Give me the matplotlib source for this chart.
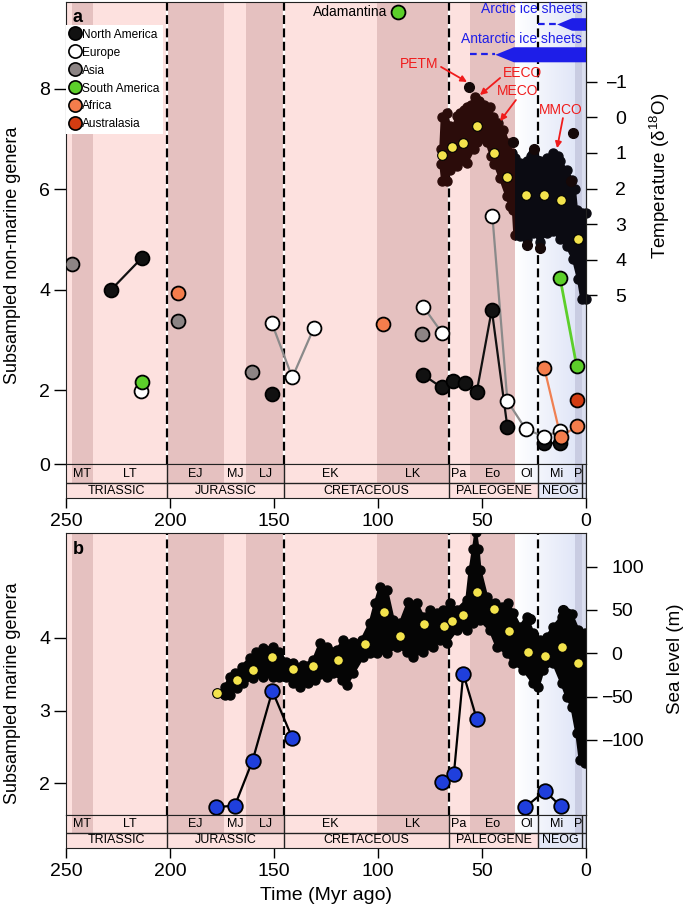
import numpy as np
import matplotlib
matplotlib.use('Agg')
import matplotlib.pyplot as plt
from matplotlib.lines import Line2D
from matplotlib.patches import Rectangle
from matplotlib.transforms import blended_transform_factory

plt.rcParams['font.family'] = ['Liberation Sans', 'DejaVu Sans']
plt.rcParams['mathtext.fontset'] = 'custom'
plt.rcParams['mathtext.rm'] = 'Liberation Sans'
plt.rcParams['mathtext.it'] = 'Liberation Sans:italic'

nan = np.nan

# ---- geological time scale (Myr ago)
epoch_names = ['', 'MT', 'LT', 'EJ', 'MJ', 'LJ', 'EK', 'LK', 'Pa', 'Eo', 'Ol', 'Mi', 'P', '']
epoch_start = [252, 247.2, 237, 201.3, 174.1, 163.5, 145, 100.5, 66, 56, 33.9, 23, 5.33, 1.81]
epoch_end = [247.2, 237, 201.3, 174.1, 163.5, 145, 100.5, 66, 56, 33.9, 23, 5.33, 1.81, 0]
period_names = ['TRIASSIC', 'JURASSIC', 'CRETACEOUS', 'PALEOGENE', 'NEOG', '']
period_start = [252, 201.3, 145, 66, 23, 1.81]
period_end = [201.3, 145, 66, 23, 1.81, 0]
boundaries = [201.3, 145, 66, 23]

# ---- panel a: regional non-marine genera (nan = gap in line)
na_age = [228.5, 213.6, nan, 151.0, nan, 78.2, 69.4, 63.8, 58.2, 52.5, 45.3, 37.8, nan, 20.2, 12.5]
na_gen = [3.99, 4.63, nan, 1.93, nan, 2.30, 2.05, 2.17, 2.13, 1.97, 3.60, 1.26, nan, 0.94, 0.94]
eu_age = [214.1, nan, 151.1, 141.2, 130.8, nan, 78.2, 69.1, nan, 45.0, 37.8, 29.0, 20.0, 12.5]
eu_gen = [1.99, nan, 3.34, 2.25, 3.24, nan, 3.66, 3.13, nan, 5.47, 1.78, 1.22, 1.07, 1.19]
as_age = [247.0, 196.0, 160.4, 78.7]
as_gen = [4.51, 3.38, 2.35, 3.11]
sa_age = [213.6, nan, 90.2, nan, 12.5, 4.5]
sa_gen = [2.15, nan, 9.54, nan, 4.24, 2.48]
af_age = [196.0, nan, 97.4, nan, 20.0, 12.2, 4.2]
af_gen = [3.94, nan, 3.32, nan, 2.43, 1.07, 1.28]
au_age = [4.5]
au_gen = [1.81]

# ---- panel a: benthic d18O cloud (upper and lower edge) and bin means
d18o_top_age = [69.9, 69.2, 67.0, 65.5, 64.0, 62.0, 60.6, 58.5, 57.4, 55.5, 53.4, 51.5, 49.0,
                46.2, 44.6, 42.1, 39.7, 37.3, 35.5, 34.3, 33.5, 31.7, 28.5, 26.5, 25.3, 23.5,
                22.1, 18.9, 15.7, 13.5, 12.5, 9.3, 6.9, 5.5, 4.5, 2.1, 0.2]
d18o_top = [0.9, 0.0, -0.12, 0.25, 0.3, -0.05, -0.12, -0.2, -0.3, -0.35, -0.58, -0.45, -0.35,
            -0.3, 0.0, 0.16, 0.35, 0.72, 1.0, 1.14, 1.3, 1.28, 1.24, 1.1, 1.0, 1.2,
            1.24, 1.14, 1.0, 1.1, 1.24, 1.47, 1.75, 2.0, 2.6, 2.68, 2.68]
d18o_bot_age = [69.9, 69.0, 67.0, 65.4, 62.2, 57.4, 54.0, 52.6, 47.8, 45.5, 44.0, 41.3, 38.1,
                36.5, 35.0, 34.3, 31.7, 28.5, 25.3, 22.1, 18.9, 15.7, 12.5, 9.3, 6.1, 3.7, 2.1, 0.2]
d18o_bot = [1.3, 1.8, 1.8, 1.47, 1.38, 1.28, 0.9, 0.7, 0.7, 1.1, 1.3, 1.7, 2.22,
            2.5, 2.6, 3.3, 3.34, 3.43, 3.24, 3.5, 3.24, 3.2, 3.43, 3.62, 3.99, 4.55, 5.11, 5.11]
d18o_out_age = [56.1, 34.9, 25.1, 6.1, 7.1, 28.5, 22.1]
d18o_out = [-0.86, 0.68, 0.9, 0.45, 1.8, 3.6, 3.67]
d18o_mean_age = [69.1, 64.3, 59.0, 52.2, 44.2, 37.8, 29.0, 20.2, 12.2, 3.7]
d18o_mean = [1.05, 0.82, 0.72, 0.24, 1.0, 1.69, 2.17, 2.17, 2.31, 3.43]

# ice sheets: (dashed start, wedge start, full from)
arctic_ice = [22.9, 14.1, 6.9]
antarctic_ice = [55.8, 43.8, 34.9]

# ---- panel b: marine genera and sea level
mar_age = [178.0, 168.8, 160.3, 150.8, 141.2, nan, 69.4, 63.5, 59.0, 52.5, nan, 29.3, 19.7, 12.2]
mar_gen = [1.665, 1.69, 2.31, 3.27, 2.62, nan, 2.02, 2.13, 3.51, 2.88, nan, 1.665, 1.89, 1.68]

sl_top_age = [174.0, 173.6, 171.2, 168.8, 165.6, 161.7, 158.5, 155.3, 150.6, 147.4, 144.2, 140.7,
              135.9, 131.1, 127.9, 124.7, 119.9, 116.6, 111.9, 107.9, 103.9, 101.4, 99.0, 95.8,
              92.6, 89.4, 85.4, 81.4, 78.2, 75.0, 71.8, 68.6, 65.4, 62.2, 57.4, 55.8, 54.2, 53.0,
              51.8, 50.9, 47.7, 43.7, 40.5, 37.3, 34.9, 31.7, 28.5, 25.3, 22.1, 18.9, 15.7, 11.7,
              9.3, 6.9, 3.7, 0.3]
sl_top = [-45, -38.5, -27, -23, -15.4, -5.8, 1.9, 5.8, 7.7, 1.9, -9.6, -11.5,
          -13.5, -7.7, 11.5, 7.7, 3.8, 15.4, 13.5, 15.4, 34.6, 57.7, 76.9, 73.0,
          38.5, 34.6, 59.6, 57.7, 42.3, 50, 46.2, 50, 57.7, 50, 61.5, 96.2, 120, 140,
          120, 96.2, 65.4, 57.7, 53.8, 57.7, 46.2, 30.8, 42.3, 23.1, 15.4, 19.2, 30.8, 42.3,
          46.2, 45, 26.9, 23.1]
sl_bot_age = [174.0, 173.6, 171.2, 168.0, 164.8, 160.1, 155.3, 150.6, 147.4, 144.2, 140.7, 137.5,
              133.5, 130.3, 124.7, 121.5, 117.4, 115.0, 111.9, 107.1, 103.9, 100.6, 97.4, 95.8,
              91.0, 86.2, 83.0, 78.2, 73.4, 70.2, 67.0, 62.2, 57.4, 54.2, 50.9, 46.2, 42.9, 38.1,
              34.9, 30.1, 25.3, 22.9, 20.5, 15.7, 11.7, 9.3, 6.9, 4.5, 2.9, 0.3]
sl_bot = [-47, -48.1, -48, -40.4, -34.6, -28.8, -27, -27, -27, -27, -34.6, -38.5,
          -34.6, -30.8, -27, -23, -30.8, -36.5, -23, -3.8, 0, 0, 5, 0,
          7.7, 1.9, -3.8, 1.9, 7.7, 15.4, 11.5, 26.9, 26.9, 34.6, 38.5, 26.9, 7.7, 0,
          -11.5, -19.2, -34.6, -38.5, -19.2, -11.5, -34.6, -50, -61.5, -92.3, -123, -127]
sl_out_age = [26.9, 10.9]
sl_out = [39.6, 50]
sl_mean_age = [177.6, 167.9, 160.2, 150.8, 141.0, 131.4, 119.4, 106.3, 97.1, 89.4, 77.7, 68.1,
               64.3, 59.0, 52.5, 44.1, 36.9, 28.0, 19.9, 11.5, 3.8]
sl_mean = [-46.2, -30.8, -19.3, -3.9, -18.1, -14.7, -7.7, 10.4, 48.0, 20.0, 33.4, 31.5,
           37.3, 44.2, 71.1, 50.8, 26.1, 1.5, -3.1, 7.3, -10.8]

# ---- colours
LIGHT = '#fde1df'
DARK = '#e5c1c0'
epoch_colors = [LIGHT, DARK, LIGHT, DARK, LIGHT, DARK, LIGHT, DARK, LIGHT, DARK, None, None, '#c9cce2', '#dadeef']
RED = '#f01c1c'
BLUE = '#1e1ee8'
YELLOW = '#f3e34c'

W, H = 685, 913
fig = plt.figure(figsize=(W / 100, H / 100), dpi=100)


def box(x0, y0, x1, y1):
    return [x0 / W, 1 - y1 / H, (x1 - x0) / W, (y1 - y0) / H]


def draw_bands(ax, y0, y1):
    for s, e, c in zip(epoch_start, epoch_end, epoch_colors):
        if c is not None:
            ax.axvspan(s, e, ymin=y0, ymax=y1, color=c, lw=0, zorder=0.2)
    g = np.linspace(0, 1, 256)[:, None]
    cols = (1 - g) * np.array([1.0, 1.0, 1.0]) + g * np.array([0.86, 0.885, 0.965])
    ax.imshow(cols[None, :, :], extent=(33.9, 0, y0, y1), transform=ax.get_xaxis_transform(),
              aspect='auto', zorder=0.1, interpolation='bilinear')


def timescale(ts, split):
    draw_bands(ts, split, 1)
    for s, e, n in zip(period_start, period_end, period_names):
        ts.axvspan(s, e, ymin=0, ymax=split, color=LIGHT if s > 23 else '#e3e7f6', lw=0, zorder=0.2)
        ts.axvline(e, color='#222222', lw=1)
        if n:
            ts.text((min(s, 250) + e) / 2, split / 2, n, ha='center', va='center', fontsize=9)
    for s, e, n in zip(epoch_start, epoch_end, epoch_names):
        if n:
            ts.text((min(s, 250) + e) / 2, (1 + split) / 2, n, ha='center', va='center', fontsize=9)
    ts.axhline(split, color='#222222', lw=1)
    ts.set_xlim(250, 0)
    ts.set_ylim(0, 1)
    ts.set_yticks([])
    ts.set_xticks([250, 200, 150, 100, 50, 0])
    ts.tick_params(axis='x', length=7.5, width=1, labelsize=14, pad=3)
    for sp in ts.spines.values():
        sp.set_color('#222222')


def panel_base(ax, label):
    draw_bands(ax, 0, 1)
    for b in boundaries:
        ax.axvline(b, color='white', lw=1.6, zorder=1)
        ax.axvline(b, color='black', lw=1.6, ls=(0, (4, 2)), zorder=1.1)
    ax.set_xlim(250, 0)
    ax.tick_params(axis='x', bottom=False, labelbottom=False)
    ax.tick_params(axis='y', length=8.5, width=1, labelsize=14, pad=3)
    ax.text(0.013, 0.985 if label == 'a' else 0.97, label, transform=ax.transAxes, fontsize=13,
            fontweight='bold', ha='left', va='top')
    for sp in ax.spines.values():
        sp.set_color('#222222')


def right_ticks(ax2, ticks, xlab):
    ax2.set_yticks(ticks, [f'{abs(t):g}' for t in ticks])
    tr = blended_transform_factory(ax2.transAxes, ax2.transData)
    for t in ticks:
        if t < 0:
            ax2.text(xlab, t, '\u2212', transform=tr, ha='right', va='center_baseline', fontsize=14)
    for sp in ['left', 'top', 'bottom']:
        ax2.spines[sp].set_visible(False)
    ax2.spines['right'].set_color('#222222')


def cloud(ax2, top_age, top, bot_age, bot, color, clip=None):
    px = np.r_[top_age, bot_age[::-1]]
    py = np.r_[top, bot[::-1]]
    p = ax2.fill(px, py, facecolor=color, edgecolor=color, lw=2.0, joinstyle='round', zorder=2)[0]
    # the record is a dense cloud of dots: dots along the edges give its bumpy outline
    dots = ax2.plot(px, py, 'o', ls='none', ms=6.5, color=color, zorder=2)[0]
    if clip is not None:
        r = Rectangle((clip[0], -500), clip[1] - clip[0], 1000, transform=ax2.transData)
        p.set_clip_path(r)
        dots.set_clip_path(r)


# ================= panel a
axA = fig.add_axes(box(66, 2, 586, 464))
tsA = fig.add_axes(box(66, 464, 586, 498))
panel_base(axA, 'a')
timescale(tsA, 0.44)
axA.set_ylim(0.525, 9.734)
axA.set_yticks([0.525, 2, 4, 6, 8], ['0', '2', '4', '6', '8'])
axA.set_ylabel('Subsampled non-marine genera', fontsize=13)
axA.yaxis.set_label_coords(-0.087, 0.452)

regions = [
    ('North America', na_age, na_gen, '#111111', '#111111'),
    ('Europe', eu_age, eu_gen, 'white', '#8a8a8a'),
    ('Asia', as_age, as_gen, '#8c8484', None),
    ('South America', sa_age, sa_gen, '#5ccf2a', '#5ccf2a'),
    ('Africa', af_age, af_gen, '#f47d4c', '#f08052'),
    ('Australasia', au_age, au_gen, '#d33c12', None),
]
for name, x, y, fc, lc in regions:
    if lc is not None:
        axA.plot(x, y, '-', color=lc, lw=1.6 if name != 'South America' else 2.0, zorder=3)
    axA.plot(x, y, 'o', ls='none', ms=10, mfc=fc, mec='black', mew=1.3, zorder=4)

handles = [Line2D([], [], ls='none', marker='o', ms=9.5, mfc=fc, mec='black', mew=1.2, label=n)
           for n, x, y, fc, lc in regions]
axA.legend(handles=handles, loc='upper left', bbox_to_anchor=(0.0, (464 - 25) / 462), fontsize=8.6,
           frameon=True, fancybox=False, edgecolor='none', facecolor='white', framealpha=1,
           borderaxespad=0, borderpad=0.3, handlelength=0.9, handletextpad=0.15, labelspacing=0.5)

axA.annotate('Adamantina', xy=(sa_age[2], sa_gen[2]), xytext=(-8, 0), textcoords='offset points',
             ha='right', va='center', fontsize=10)

# ice sheets
for (d0, w0, f0), yc, hh, name, ytxt in [(arctic_ice, 9.296, 0.125, 'Arctic ice sheets', 9.589),
                                         (antarctic_ice, 8.692, 0.15, 'Antarctic ice sheets', 8.99)]:
    axA.plot([d0, w0], [yc, yc], color=BLUE, lw=1.6, ls=(0, (3, 2)), zorder=5)
    axA.fill_between([w0, f0, 0], [yc, yc - hh, yc - hh], [yc, yc + hh, yc + hh], color=BLUE, lw=0, zorder=5)
    axA.text(1.8, ytxt, name, color=BLUE, fontsize=10, ha='right', va='center', zorder=5)

axA2 = axA.twinx()
axA2.set_ylim(9.74, -3.24)
right_ticks(axA2, [-1, 0, 1, 2, 3, 4, 5], 1.0596)
axA2.tick_params(axis='y', length=8, width=1, labelsize=14, pad=13)
axA2.set_ylabel('Temperature (\u03b4$^{18}$O)', fontsize=13.5)
axA2.yaxis.set_label_coords(1.119, 0.623)
cloud(axA2, d18o_top_age, d18o_top, d18o_bot_age, d18o_bot, '#2b0c0a', clip=(33.9, 80))
cloud(axA2, d18o_top_age, d18o_top, d18o_bot_age, d18o_bot, '#0b0b12', clip=(-5, 33.9))
axA2.plot(d18o_out_age, d18o_out, 'o', ls='none', ms=7, color='#150808', zorder=2)
axA2.plot(d18o_mean_age, d18o_mean, 'o', ls='none', ms=7, mfc=YELLOW, mec='black', mew=0.8, zorder=3)

# climate event labels: (text, text pos, arrow tail, arrow tip) in genera axis units
events = [('PETM', (80.3, 8.50), (69.7, 8.44), (57.2, 8.14)),
          ('EECO', (30.3, 8.32), (41.3, 8.22), (51.0, 7.88)),
          ('MECO', (32.7, 7.96), (33.7, 7.78), (41.3, 7.36)),
          ('MMCO', (12.0, 7.58), (11.1, 7.42), (13.9, 6.82))]
for name, tp, tail, tip in events:
    axA.text(tp[0], tp[1], name, color=RED, fontsize=10, ha='center', va='center', zorder=6)
    axA2.annotate('', xy=tip, xytext=tail, xycoords=axA.transData, textcoords=axA.transData,
                  arrowprops=dict(arrowstyle='-|>', color=RED, lw=1.3, mutation_scale=9,
                                  shrinkA=0, shrinkB=0), zorder=6)
axA.set_xlim(250, 0)

# ================= panel b
axB = fig.add_axes(box(66, 533, 586, 815))
tsB = fig.add_axes(box(66, 815, 586, 848))
panel_base(axB, 'b')
timescale(tsB, 0.455)
tsB.set_xlabel('Time (Myr ago)', fontsize=14, labelpad=5)
axB.set_ylim(1.559, 5.448)
axB.set_yticks([2, 3, 4])
axB.set_ylabel('Subsampled marine genera', fontsize=13)
axB.yaxis.set_label_coords(-0.087, 0.43)
axB.plot(mar_age, mar_gen, '-', color='black', lw=1.6, zorder=3)
axB.plot(mar_age, mar_gen, 'o', ls='none', ms=10.5, mfc='#1f3fdc', mec='black', mew=1.3, zorder=4)
axB.set_xlim(250, 0)

axB2 = axB.twinx()
axB2.set_ylim(-186.6, 138.8)
right_ticks(axB2, [-100, -50, 0, 50, 100], 1.052)
axB2.tick_params(axis='y', length=8, width=1, labelsize=14, pad=10.5)
axB2.set_ylabel('Sea level (m)', fontsize=13.5)
axB2.yaxis.set_label_coords(1.155, 0.553)
cloud(axB2, sl_top_age, sl_top, sl_bot_age, sl_bot, '#050505')
axB2.plot(sl_out_age, sl_out, 'o', ls='none', ms=7, color='#050505', zorder=2)
axB2.plot(sl_mean_age, sl_mean, 'o', ls='none', ms=7, mfc=YELLOW, mec='black', mew=0.8, zorder=3)

fig.savefig('out.png', dpi=100)
